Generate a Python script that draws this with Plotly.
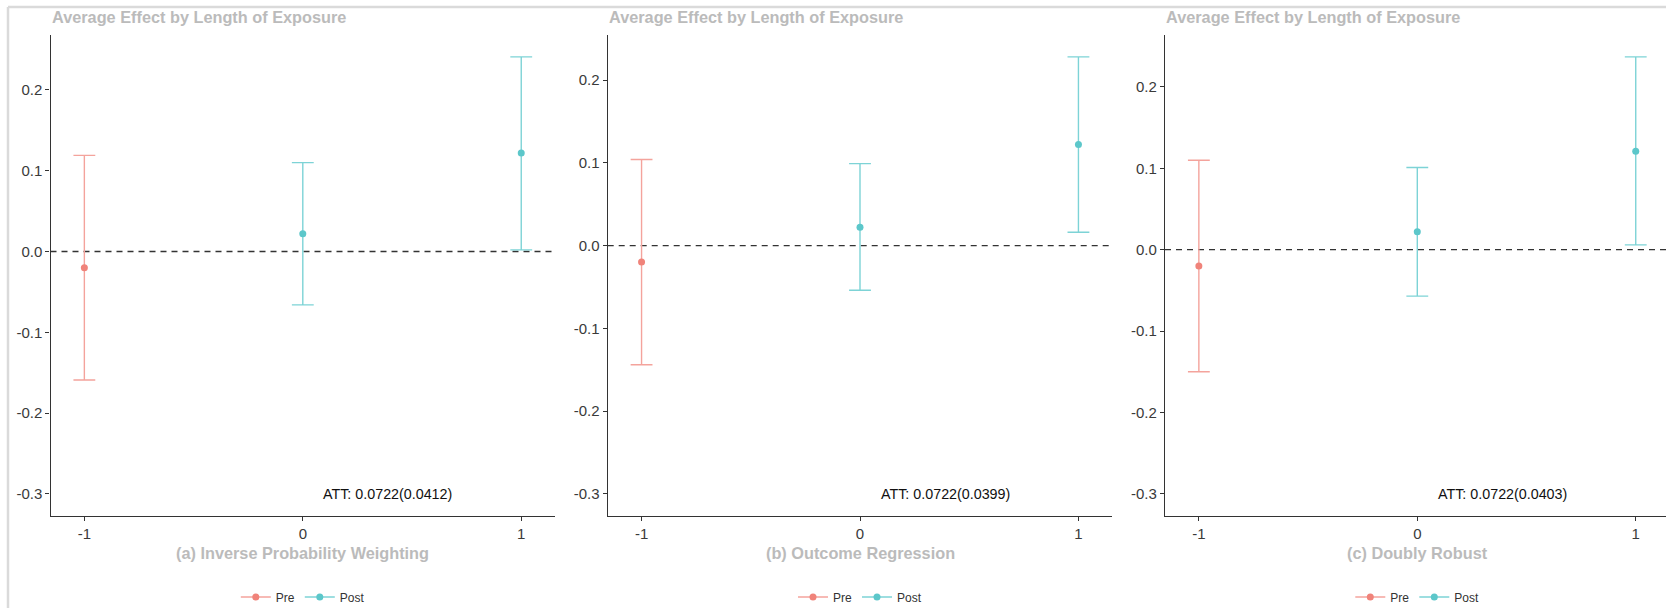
import plotly.graph_objects as go

# ---------------- data ----------------
periods = [-1, 0, 1]
phase = ["Pre", "Post", "Post"]

ipw_est = [-0.020, 0.022, 0.122]
ipw_lo = [-0.159, -0.066, 0.002]
ipw_hi = [0.119, 0.110, 0.241]

or_est = [-0.020, 0.022, 0.122]
or_lo = [-0.144, -0.054, 0.016]
or_hi = [0.104, 0.099, 0.228]

dr_est = [-0.020, 0.022, 0.121]
dr_lo = [-0.150, -0.057, 0.006]
dr_hi = [0.110, 0.101, 0.237]

panel_titles = ["(a) Inverse Probability Weighting", "(b) Outcome Regression", "(c) Doubly Robust"]
att_labels = ["ATT: 0.0722(0.0412)", "ATT: 0.0722(0.0399)", "ATT: 0.0722(0.0403)"]
att_pos = (0.39, -0.30)
main_title = "Average Effect by Length of Exposure"
y_ticks = [-0.3, -0.2, -0.1, 0.0, 0.1, 0.2]
x_ticks = [-1, 0, 1]

panels = [
    (ipw_est, ipw_lo, ipw_hi),
    (or_est, or_lo, or_hi),
    (dr_est, dr_lo, dr_hi),
]

# ---------------- style ----------------
W, H = 1666, 608
FONT = "Liberation Sans, Arial, Helvetica, sans-serif"
line_col = {"Pre": "#F4A39C", "Post": "#7DD3D6"}
pt_col = {"Pre": "#F0837A", "Post": "#5CC7CA"}
axis_col = "#333333"
grey_title = "#BBBBBB"

panel_left_px = [50.5, 607.7, 1165.0]
panel_w_px = 504.6
plot_top_px, plot_bot_px = 35.0, 515.7
cap_half = 0.05  # errorbar cap half width (data units)
x_pad = 0.05 * ((max(x_ticks) + cap_half) - (min(x_ticks) - cap_half))
x_lo = min(x_ticks) - cap_half - x_pad
x_hi = max(x_ticks) + cap_half + x_pad
px_per_unit = panel_w_px / (x_hi - x_lo)

fig = go.Figure()
layout_axes = {}
annotations = []
shapes = []

for i, (est, lo, hi) in enumerate(panels):
    n = i + 1
    sx = "" if n == 1 else str(n)
    xref, yref = f"x{sx}", f"y{sx}"
    leg = "legend" if n == 1 else f"legend{n}"

    for ph in ["Pre", "Post"]:
        idx = [k for k in range(len(periods)) if phase[k] == ph]
        xs = [periods[k] for k in idx]
        ys = [est[k] for k in idx]
        up = [hi[k] - est[k] for k in idx]
        dn = [est[k] - lo[k] for k in idx]
        fig.add_trace(go.Scatter(
            x=xs, y=ys, mode="markers", xaxis=xref, yaxis=yref,
            marker=dict(color=pt_col[ph], size=7),
            error_y=dict(type="data", symmetric=False, array=up, arrayminus=dn,
                         color=line_col[ph], thickness=1.4, width=cap_half * px_per_unit),
            showlegend=False, hoverinfo="skip", name=ph))
        # legend-only entry
        fig.add_trace(go.Scatter(
            x=[None], y=[None], mode="lines+markers", xaxis=xref, yaxis=yref,
            marker=dict(color=pt_col[ph], size=7),
            line=dict(color=line_col[ph], width=1.6),
            name=ph, legend=leg, showlegend=True))

    # ranges (ggplot-like 5% expansion, including ATT label position)
    ymin = min(min(lo), att_pos[1])
    ymax = max(hi)
    ypad = 0.05 * (ymax - ymin)

    left = panel_left_px[i]
    right = min(left + panel_w_px, W)
    xr_hi = x_lo + (right - left) / px_per_unit

    ax_common = dict(showline=True, linecolor=axis_col, linewidth=1.3, ticks="outside",
                     ticklen=4, tickwidth=1, tickcolor=axis_col, showgrid=False, zeroline=False,
                     tickfont=dict(family=FONT, size=15, color="#3A3A3A"))
    layout_axes[f"xaxis{sx}"] = dict(
        ax_common, domain=[left / W, right / W], range=[x_lo, xr_hi],
        tickvals=x_ticks, ticktext=[str(t) for t in x_ticks], anchor=yref)
    layout_axes[f"yaxis{sx}"] = dict(
        ax_common, domain=[1 - plot_bot_px / H, 1 - plot_top_px / H],
        range=[ymin - ypad, ymax + ypad], tickvals=y_ticks,
        ticktext=[f"{t:.1f}" for t in y_ticks], anchor=xref)

    # dashed zero line
    shapes.append(dict(type="line", xref=f"{xref} domain", yref=yref, x0=0, x1=1, y0=0, y1=0,
                       line=dict(color=axis_col, width=1.3, dash="6px,5px"), layer="below"))

    # titles
    annotations.append(dict(text=main_title, xref="paper", yref="paper", x=(left - 1) / W,
                            y=1 - 17 / H, xanchor="left", yanchor="middle", showarrow=False,
                            font=dict(family=FONT, size=16.3, color=grey_title, weight="bold")))
    annotations.append(dict(text=panel_titles[i], xref=xref, yref="paper", x=0,
                            y=1 - 553 / H, xanchor="center", yanchor="middle", showarrow=False,
                            font=dict(family=FONT, size=16.3, color=grey_title, weight="bold")))
    annotations.append(dict(text=att_labels[i], xref=xref, yref=yref, x=att_pos[0],
                            y=att_pos[1], xanchor="center", yanchor="middle", showarrow=False,
                            font=dict(family=FONT, size=14.3, color="#111111")))

    legend_cfg = dict(orientation="h", xref="paper", yref="paper",
                      x=(left + (0 - x_lo) * px_per_unit) / W, y=1 - 597 / H,
                      xanchor="center", yanchor="middle", itemwidth=30,
                      font=dict(family=FONT, size=12, color="#333333"),
                      bgcolor="rgba(0,0,0,0)", tracegroupgap=0)
    layout_axes["legend" if n == 1 else f"legend{n}"] = legend_cfg

# screenshot frame lines
shapes.append(dict(type="line", xref="paper", yref="paper", x0=8 / W, x1=1, y0=1 - 7 / H, y1=1 - 7 / H,
                   line=dict(color="#DADADA", width=2.5)))
shapes.append(dict(type="line", xref="paper", yref="paper", x0=8 / W, x1=8 / W, y0=0, y1=1 - 7 / H,
                   line=dict(color="#DADADA", width=2.5)))

fig.update_layout(
    width=W, height=H, margin=dict(l=0, r=0, t=0, b=0, autoexpand=False),
    paper_bgcolor="white", plot_bgcolor="white",
    annotations=annotations, shapes=shapes, **layout_axes)

fig.write_html(
    "out.html",
    config={"displayModeBar": False},
    post_script="document.body.style.margin='0';document.body.style.padding='0';"
                "document.body.style.overflow='hidden';",
)
